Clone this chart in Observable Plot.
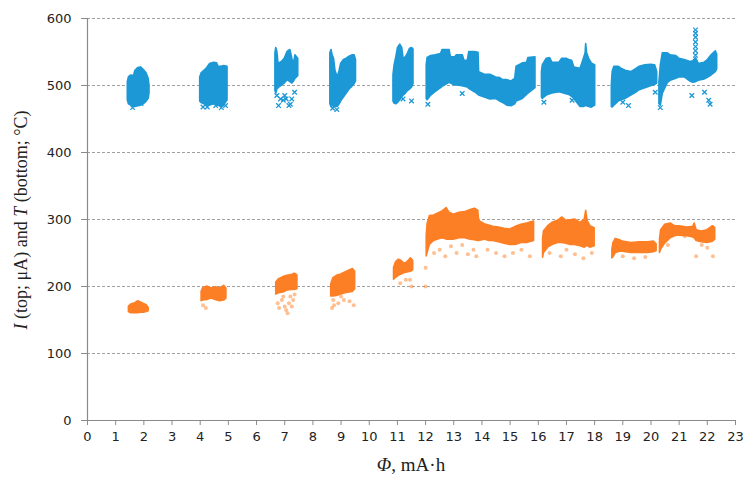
<!DOCTYPE html>
<html>
<head>
<meta charset="utf-8">
<script src="https://cdn.jsdelivr.net/npm/d3@7"></script>
<script src="https://cdn.jsdelivr.net/npm/@observablehq/plot@0.6"></script>
<style>
  html, body { margin: 0; padding: 0; background: #fff; }
  #chart { width: 746px; height: 477px; }
</style>
</head>
<body>
<div id="chart"></div>
<script>
// x ticks and y ticks
const xTicks = d3.range(0, 24);
const yTicks = [0, 100, 200, 300, 400, 500, 600];

// Top series (I, µA): dense bands [cluster, Φ, low, high]
const topBands = [
  [1,1.43,478,505],[1,1.47,472,512],[1,1.55,470,515],[1,1.65,468,514],[1,1.7,468,522],[1,1.8,469,526],[1,1.9,470,527],[1,2.0,472,523],[1,2.1,476,518],[1,2.17,480,510],[1,2.2,488,500],
  [2,4.0,476,512],[2,4.05,474,518],[2,4.15,472,522],[2,4.25,470,526],[2,4.35,470,532],[2,4.5,472,534],[2,4.6,470,533],[2,4.65,470,528],[2,4.75,468,528],[2,4.85,470,529],[2,4.97,478,528],
  [3,6.67,492,548],[3,6.7,488,556],[3,6.74,494,550],[3,6.78,496,532],[3,6.9,500,535],[3,7.0,503,540],[3,7.1,508,550],[3,7.2,505,553],[3,7.27,503,540],[3,7.33,506,532],[3,7.38,510,545],[3,7.48,514,540],
  [4,8.62,472,548],[4,8.66,468,553],[4,8.7,470,545],[4,8.75,468,540],[4,8.8,468,522],[4,8.88,468,512],[4,8.95,472,522],[4,9.0,476,532],[4,9.1,482,538],[4,9.2,488,540],[4,9.3,494,543],[4,9.4,498,545],[4,9.48,502,545],[4,9.53,506,538],
  [5,10.86,476,515],[5,10.9,473,530],[5,10.96,472,542],[5,11.02,474,556],[5,11.1,478,561],[5,11.17,482,556],[5,11.22,485,540],[5,11.3,488,542],[5,11.38,492,548],[5,11.45,494,555],[5,11.52,497,556],[5,11.57,502,554],
  [6,12.04,480,530],[6,12.07,478,541],[6,12.2,485,544],[6,12.35,490,545],[6,12.55,496,547],[6,12.6,498,553],[6,12.85,504,553],[6,12.9,503,542],[6,13.05,500,542],[6,13.1,500,545],[6,13.32,499,545],[6,13.38,498,537],[6,13.5,497,537],[6,13.55,495,550],[6,13.75,490,550],[6,13.88,486,549],
  [6,13.9,485,520],[6,14.1,482,516],[6,14.3,479,516],[6,14.5,480,512],[6,14.65,476,511],[6,14.75,474,508],[6,14.9,470,508],[6,15.05,469,506],[6,15.18,472,510],[6,15.23,476,528],[6,15.45,480,533],[6,15.6,486,534],[6,15.65,488,541],[6,15.9,496,542],
  [7,16.13,482,520],[7,16.16,480,530],[7,16.3,485,540],[7,16.42,487,541],[7,16.5,488,534],[7,16.75,490,534],[7,16.85,489,540],[7,17.0,487,540],[7,17.1,486,538],[7,17.2,483,537],[7,17.28,480,527],[7,17.5,468,525],[7,17.62,468,540],[7,17.68,469,548],[7,17.7,470,562],[7,17.73,469,549],[7,17.8,468,540],[7,17.9,467,533],[7,18.02,470,530],
  [8,18.61,468,500],[8,18.64,467,520],[8,18.7,470,528],[8,18.85,476,528],[8,18.95,478,525],[8,19.1,480,522],[8,19.3,485,520],[8,19.5,490,525],[8,19.6,493,528],[8,19.8,496,530],[8,20.0,499,531],[8,20.15,501,530],[8,20.22,503,520],
  [9,20.3,472,505],[9,20.35,470,530],[9,20.42,488,548],[9,20.6,504,548],[9,20.7,507,545],[9,20.9,510,544],[9,21.0,512,540],[9,21.2,512,538],[9,21.4,506,535],[9,21.5,504,536],[9,21.6,505,541],[9,21.7,507,532],[9,21.9,509,534],[9,22.0,511,537],[9,22.15,515,545],[9,22.3,520,551],[9,22.35,524,546]
];
const topOutliers = [
  [1.6,467],[1.9,473],[4.1,468],[4.25,468],[4.55,470],[4.75,467],[4.9,470],
  [6.72,485],[6.85,480],[6.95,478],[7.0,485],[7.05,480],[6.78,470],[7.15,470],[7.2,472],[7.35,490],[7.25,480],
  [8.7,466],[8.85,464],[11.2,480],[11.5,477],[12.08,472],[13.3,488],[16.2,475],[17.2,478],
  [19.0,475],[19.2,470],[20.15,490],[20.33,467],
  [21.58,545],[21.58,552],[21.58,558],[21.58,565],[21.58,572],[21.58,578],[21.58,583],
  [21.45,485],[21.9,490],[22.05,478],[22.1,472]
];

// Bottom series (T, °C): dense bands [cluster, Φ, low, high]
const bottomBands = [
  [1,1.47,162,170],[1,1.55,160,173],[1,1.7,160,175],[1,1.8,160,178],[1,1.9,161,176],[1,2.0,161,174],[1,2.1,162,172],[1,2.17,163,168],
  [2,4.05,178,192],[2,4.1,179,197],[2,4.25,180,200],[2,4.4,182,197],[2,4.55,180,199],[2,4.7,178,197],[2,4.85,179,201],[2,4.93,182,197],
  [3,6.7,188,206],[3,6.8,190,211],[3,6.95,191,214],[3,7.1,194,216],[3,7.25,195,217],[3,7.35,195,219],[3,7.45,196,217],
  [4,8.65,185,203],[4,8.72,185,212],[4,8.85,186,216],[4,9.0,188,218],[4,9.15,190,221],[4,9.3,191,224],[4,9.42,192,226],[4,9.5,196,222],
  [5,10.88,210,228],[5,10.95,213,236],[5,11.05,216,240],[5,11.15,218,238],[5,11.25,220,234],[5,11.35,221,236],[5,11.48,222,242],[5,11.56,224,238],
  [6,12.04,245,275],[6,12.07,250,293],[6,12.15,262,305],[6,12.3,268,306],[6,12.45,270,309],[6,12.6,272,312],[6,12.75,270,317],[6,12.85,270,310],[6,13.0,270,307],[6,13.2,272,310],[6,13.4,272,311],[6,13.6,270,314],[6,13.75,269,316],[6,13.87,268,313],
  [6,13.9,268,298],[6,14.1,270,293],[6,14.25,268,291],[6,14.4,268,289],[6,14.6,266,288],[6,14.8,264,286],[6,15.0,262,285],[6,15.2,262,289],[6,15.4,265,292],[6,15.6,265,294],[6,15.85,268,297],
  [8,16.17,243,270],[8,16.2,250,282],[8,16.35,258,290],[8,16.5,262,295],[8,16.7,265,298],[8,16.85,265,303],[8,17.0,264,298],[8,17.15,262,299],[8,17.3,262,300],[8,17.5,260,295],[8,17.65,258,300],[8,17.7,260,313],[8,17.75,260,298],[8,17.85,258,290],[8,18.0,260,287],
  [9,18.63,242,255],[9,18.67,244,265],[9,18.75,250,271],[9,18.9,252,269],[9,19.0,252,267],[9,19.3,250,265],[9,19.6,250,266],[9,19.9,250,266],[9,20.1,251,267],[9,20.2,253,263],
  [10,20.32,250,270],[10,20.36,255,284],[10,20.5,264,292],[10,20.7,272,294],[10,20.85,275,290],[10,21.0,276,290],[10,21.3,275,288],[10,21.5,273,289],[10,21.55,272,294],[10,21.62,268,284],[10,21.8,266,282],[10,22.0,265,284],[10,22.2,267,290],[10,22.28,270,287]
];
const bottomOutliers = [
  [4.1,172],[4.2,168],
  [6.75,175],[6.8,168],[6.9,180],[7.0,170],[7.05,165],[7.1,160],[7.15,175],[7.2,185],[7.3,180],[7.25,170],[6.95,185],[7.35,188],
  [8.68,168],[8.75,172],[8.9,175],[9.1,180],[9.3,178],[9.45,172],[8.72,180],[9.0,185],
  [11.1,205],[11.3,210],[11.5,200],[11.45,210],
  [12.0,228],[12.0,200],[12.3,250],[12.5,255],[12.7,245],[12.9,260],[13.1,250],[13.3,262],[13.5,248],[13.7,255],[13.8,245],
  [14.2,255],[14.5,250],[14.8,245],[15.1,250],[15.4,255],[15.7,245],
  [16.4,250],[16.8,245],[17.0,255],[17.3,248],[17.6,242],[17.9,250],
  [19.0,245],[19.4,242],[19.8,244],
  [20.6,262],[21.2,275],[21.6,245],[21.8,262],[22.0,258],[22.2,245]
];

const topColor = "#1c98d6";
const botColor = "#fd7f25";
const axisColor = "#8a8a8a";

const toRows = a => a.map(([c, x, lo, hi]) => ({c, x, lo, hi}));
const toPts = a => a.map(([x, y]) => ({x, y}));

const plot = Plot.plot({
  width: 746,
  height: 477,
  marginLeft: 87,
  marginRight: 11,
  marginTop: 18,
  marginBottom: 57,
  x: {domain: [0, 23]},
  y: {domain: [0, 600]},
  style: {fontFamily: "DejaVu Sans", fontSize: "13px", color: "#222", background: "#fff"},
  marks: [
    Plot.gridY(yTicks.filter(d => d > 0), {stroke: "#a0a0a0", strokeOpacity: 1, strokeDasharray: "3,2", strokeWidth: 1}),
    Plot.areaY(toRows(topBands), {x: "x", y1: "lo", y2: "hi", z: "c", fill: topColor, stroke: topColor, strokeWidth: 1.6, strokeLinejoin: "round", curve: "linear"}),
    Plot.dot(toPts(topOutliers), {x: "x", y: "y", symbol: "times", r: 2.2, stroke: topColor, strokeWidth: 1.3}),
    Plot.areaY(toRows(bottomBands), {x: "x", y1: "lo", y2: "hi", z: "c", fill: botColor, stroke: botColor, strokeWidth: 1.6, strokeLinejoin: "round", curve: "linear"}),
    Plot.dot(toPts(bottomOutliers), {x: "x", y: "y", r: 2, fill: botColor, fillOpacity: 0.5, stroke: "none"}),
    Plot.ruleX([0], {stroke: axisColor, strokeWidth: 1.2}),
    Plot.ruleY([0], {stroke: axisColor, strokeWidth: 1.2}),
    Plot.axisY(yTicks, {tickSize: 6, tickPadding: 10, stroke: axisColor, label: null, fontSize: 13}),
    Plot.axisX(xTicks, {tickSize: 5, tickPadding: 6, stroke: axisColor, label: null, fontSize: 13})
  ]
});

document.getElementById("chart").appendChild(plot);

// Axis titles with italic variables (real text)
const svg = d3.select(plot);
const serif = "'Liberation Serif', 'DejaVu Serif', serif";
const xt = svg.append("text")
  .attr("x", 411).attr("y", 471)
  .attr("text-anchor", "middle")
  .attr("font-family", serif).attr("font-size", 19).attr("fill", "#222");
xt.append("tspan").attr("font-style", "italic").text("Φ");
xt.append("tspan").text(", mA·h");

const yt = svg.append("text")
  .attr("transform", "translate(27,220) rotate(-90)")
  .attr("text-anchor", "middle")
  .attr("font-family", serif).attr("font-size", 18).attr("fill", "#222");
yt.append("tspan").attr("font-style", "italic").text("I");
yt.append("tspan").text(" (top; μA) and ");
yt.append("tspan").attr("font-style", "italic").text("T");
yt.append("tspan").text(" (bottom; °C)");
</script>
</body>
</html>
